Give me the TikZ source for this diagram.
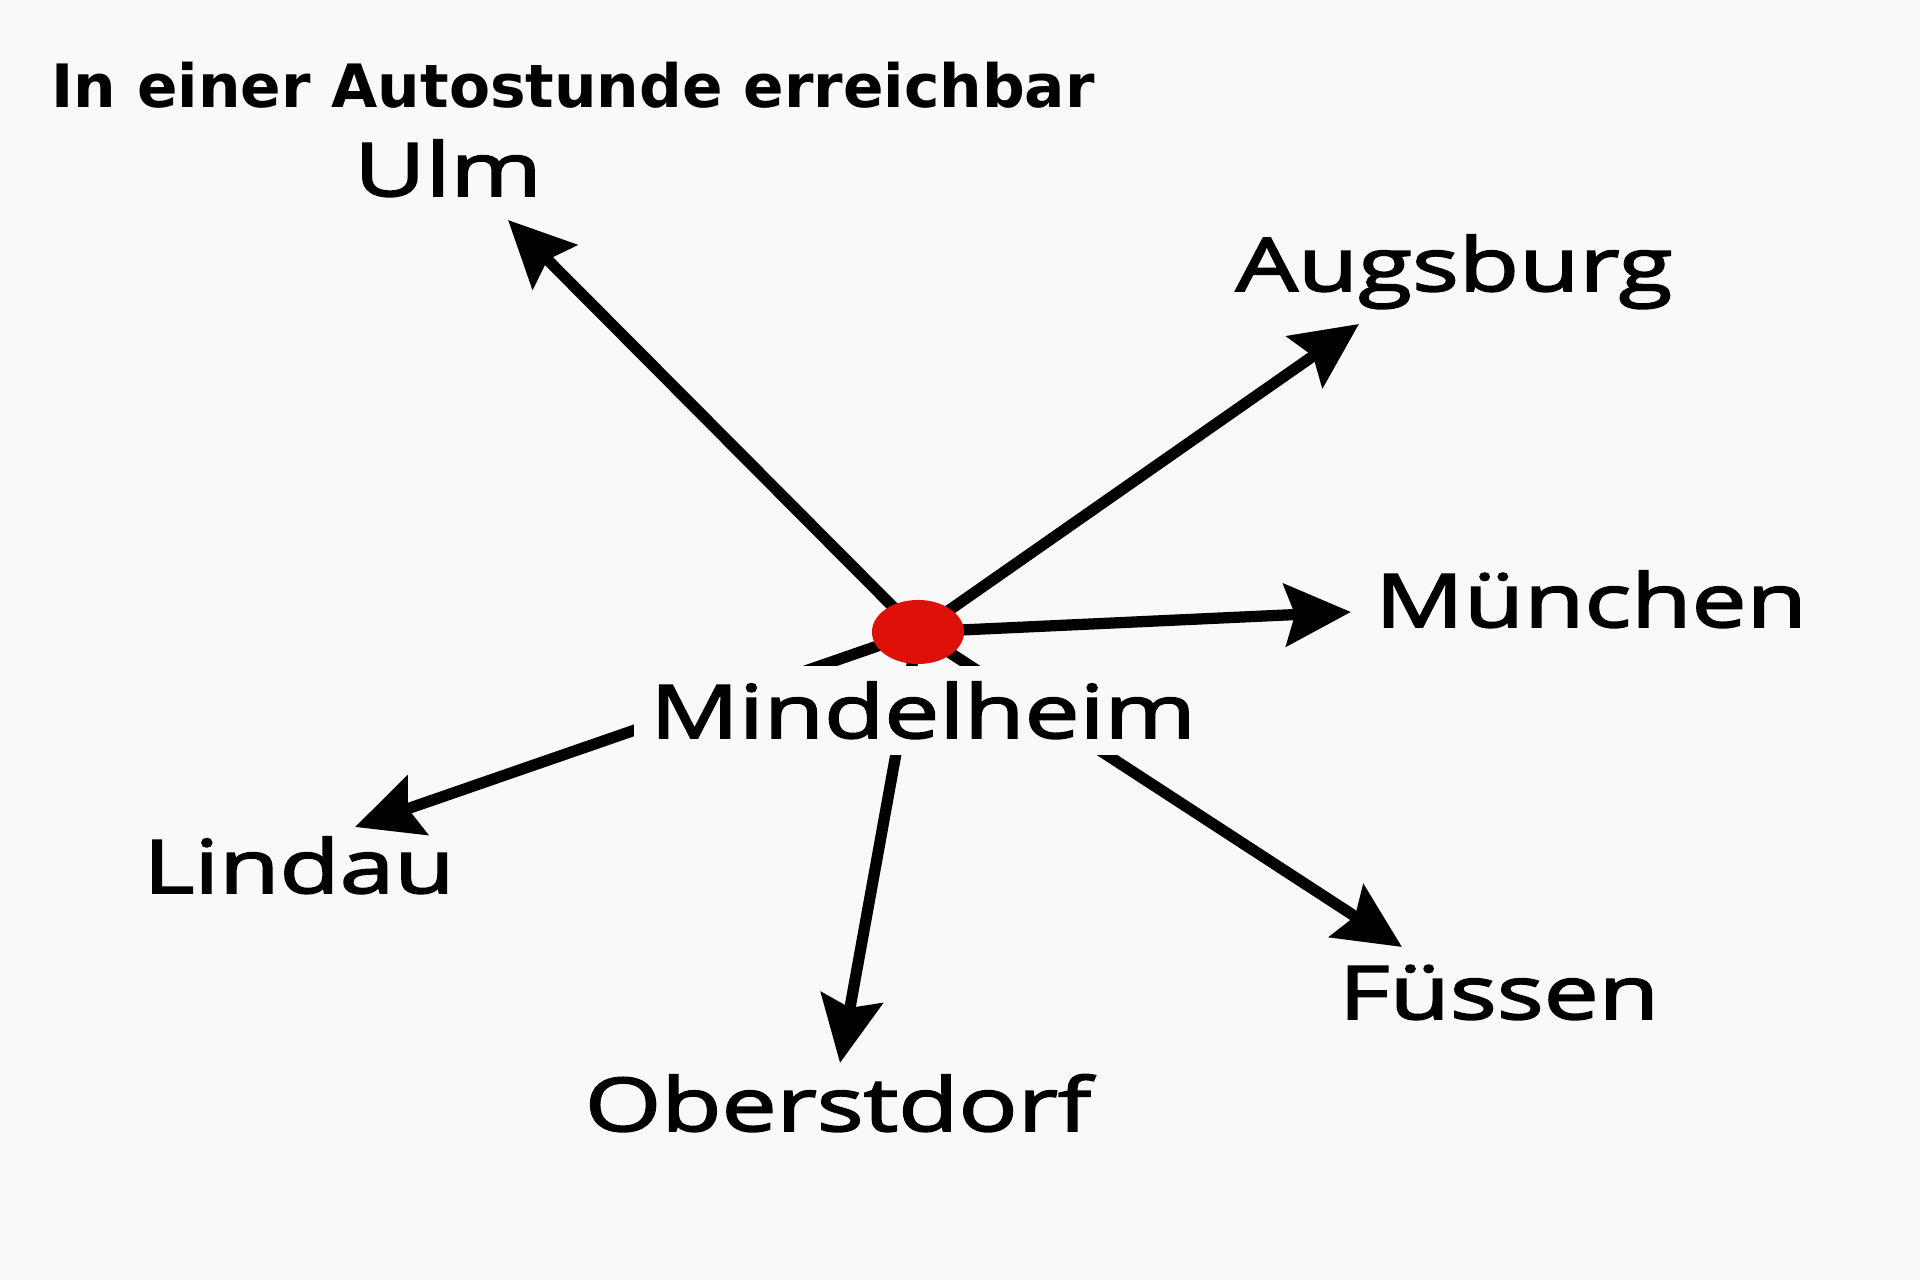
\documentclass[tikz,border=0pt]{standalone}
\usepackage{fontspec}
\usetikzlibrary{arrows.meta, shapes.geometric}
\newfontfamily\cityfont[FakeStretch=1.33, FakeBold=2.6]{Open Sans}
\newfontfamily\titlefont{DejaVu Sans}
\definecolor{bgcol}{RGB}{249,249,249}
\definecolor{dotred}{RGB}{221,17,8}
\tikzset{
  route/.style={draw=black, line width=3.2pt, -{Stealth[length=0.66cm, width=0.62cm, inset=0.1cm]}},
  city/.style={anchor=base, inner sep=0pt, font=\cityfont\fontsize{21}{24}\selectfont},
  hubdot/.style={ellipse, fill=dotred, minimum width=0.92cm, minimum height=0.64cm, inner sep=0pt},
}

\begin{document}
\begin{tikzpicture}[x=0.01cm, y=-0.01cm]
  \fill[bgcol] (0,0) rectangle (1920,1280);
  \useasboundingbox (0,0) rectangle (1920,1280);
  \coordinate (hub) at (918,632);
  \coordinate (tUlm) at (508,220);
  \coordinate (tAugsburg) at (1359,324);
  \coordinate (tMuenchen) at (1351,612);
  \coordinate (tLindau) at (355,827);
  \coordinate (tFuessen) at (1402,947);
  \coordinate (tOberstdorf) at (840,1063);
  \foreach \t in {tUlm, tAugsburg, tMuenchen, tLindau, tFuessen, tOberstdorf}
    \draw[route] (hub) -- (\t);
  \node[hubdot] (dot) at (hub) {};
  \node[city, fill=bgcol, inner sep=0.16cm] (Mindelheim) at (923,738) {Mindelheim};
  \node[city] (Ulm) at (448,196) {Ulm};
  \node[city] (Augsburg) at (1454,291) {Augsburg};
  \node[city] (Muenchen) at (1591,627) {München};
  \node[city] (Lindau) at (299,893) {Lindau};
  \node[city] (Fuessen) at (1499,1019) {Füssen};
  \node[city] (Oberstdorf) at (838,1131) {Oberstdorf};
  \node[anchor=base west, inner sep=0pt, font=\titlefont\bfseries\fontsize{17}{20}\selectfont] (title) at (51,108) {In einer Autostunde erreichbar};
\end{tikzpicture}
\end{document}
